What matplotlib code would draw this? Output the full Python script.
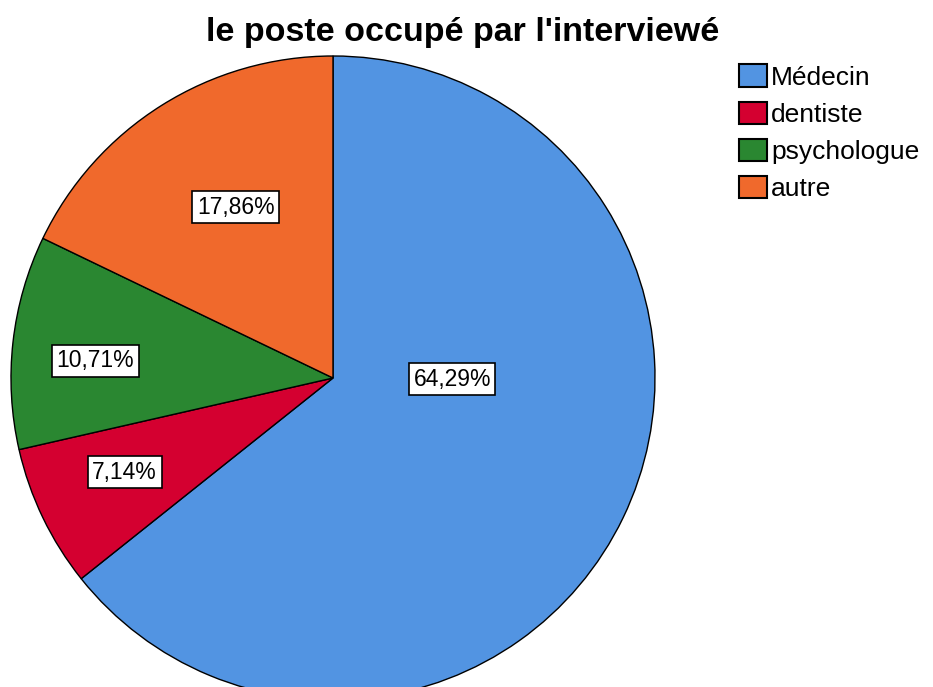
import matplotlib
matplotlib.use("Agg")
import matplotlib.pyplot as plt
import numpy as np

# data
categories = ["Médecin", "dentiste", "psychologue", "autre"]
percents = [64.29, 7.14, 10.71, 17.86]
pct_labels = ["64,29%", "7,14%", "10,71%", "17,86%"]
colors = ["#5294E2", "#D40030", "#2A8731", "#F0692C"]

# label placement (radius as fraction of pie radius, angle in degrees)
label_r = [0.37, 0.71, 0.74, 0.61]
label_ang = [-0.5, 204.3, 175.9, 119.7]

plt.rcParams['font.family'] = ['Liberation Sans', 'DejaVu Sans']

fig = plt.figure(figsize=(9.33, 6.87), dpi=100)
ax = fig.add_axes([0, 0, 1, 1])

wedges, _ = ax.pie(percents, colors=colors, startangle=90, counterclock=False,
                   radius=1.0, center=(0, 0),
                   wedgeprops=dict(edgecolor="black", linewidth=1.0))

# map pixel layout: center at (333, 378), radius 322 px
px = 322.0
ax.set_xlim(-333 / px, (933 - 333) / px)
ax.set_ylim(-(687 - 378) / px, 378 / px)
ax.set_aspect("auto")
ax.axis("off")

for lab, r, a in zip(pct_labels, label_r, label_ang):
    t = np.deg2rad(a)
    ax.text(r * np.cos(t), r * np.sin(t), lab, ha="center", va="center",
            fontsize=16.5,
            bbox=dict(boxstyle="square,pad=0.2", facecolor="white",
                      edgecolor="black", linewidth=1.2))

fig.text(463 / 933, 1 - 32 / 687, "le poste occupé par l'interviewé",
         ha="center", va="center", fontsize=24.5, fontweight="bold")

leg = fig.legend(wedges, categories, loc="upper left",
                 bbox_to_anchor=(721 / 933, 1 - 46 / 687),
                 frameon=False, fontsize=19, handlelength=1.05,
                 handleheight=0.95, labelspacing=0.44, handletextpad=0.15,
                 borderpad=0.2)
for h in leg.legend_handles:
    h.set_linewidth(1.5)

plt.savefig("out.png", dpi=100)
